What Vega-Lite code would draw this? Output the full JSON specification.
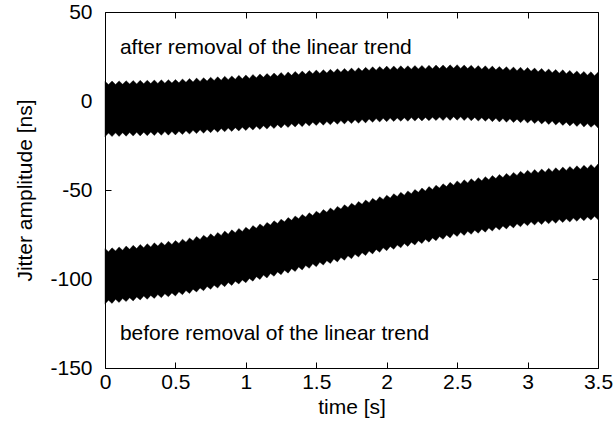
{
"$schema": "https://vega.github.io/schema/vega-lite/v6.json",
"width": 493, "height": 356,
"autosize": {"type": "none"},
"padding": {"left": 105, "top": 12, "right": 17, "bottom": 70},
"background": "white",
"config": {
 "view": {"stroke": "black", "strokeWidth": 1},
 "axis": {"domain": false, "grid": false, "tickColor": "black", "tickSize": -6, "tickWidth": 1,
  "labelFont": "Liberation Sans", "labelFontSize": 21, "labelColor": "black",
  "titleFont": "Liberation Sans", "titleFontSize": 21, "titleFontWeight": "normal", "titleColor": "black"}
},
"data": {"values": [
{"t":0,"ah":11.1,"al":-20.1,"bh":-82.9,"bl":-114.1},
{"t":0.025,"ah":9.2,"al":-18.0,"bh":-84.7,"bl":-111.9},
{"t":0.05,"ah":11.2,"al":-20.0,"bh":-82.5,"bl":-113.7},
{"t":0.075,"ah":9.3,"al":-17.9,"bh":-84.2,"bl":-111.4},
{"t":0.1,"ah":11.3,"al":-19.9,"bh":-82.0,"bl":-113.2},
{"t":0.125,"ah":9.4,"al":-17.8,"bh":-83.8,"bl":-111.0},
{"t":0.15,"ah":11.4,"al":-19.8,"bh":-81.5,"bl":-112.7},
{"t":0.175,"ah":9.5,"al":-17.7,"bh":-83.3,"bl":-110.5},
{"t":0.2,"ah":11.5,"al":-19.7,"bh":-81.1,"bl":-112.3},
{"t":0.225,"ah":9.6,"al":-17.6,"bh":-82.9,"bl":-110.1},
{"t":0.25,"ah":11.6,"al":-19.6,"bh":-80.6,"bl":-111.8},
{"t":0.275,"ah":9.7,"al":-17.5,"bh":-82.4,"bl":-109.6},
{"t":0.3,"ah":11.7,"al":-19.5,"bh":-80.2,"bl":-111.4},
{"t":0.325,"ah":9.8,"al":-17.4,"bh":-82.0,"bl":-109.2},
{"t":0.35,"ah":11.8,"al":-19.4,"bh":-79.7,"bl":-110.9},
{"t":0.375,"ah":9.9,"al":-17.3,"bh":-81.5,"bl":-108.7},
{"t":0.4,"ah":11.9,"al":-19.3,"bh":-79.3,"bl":-110.5},
{"t":0.425,"ah":10.0,"al":-17.2,"bh":-81.1,"bl":-108.3},
{"t":0.45,"ah":12.0,"al":-19.2,"bh":-78.8,"bl":-110.0},
{"t":0.475,"ah":10.1,"al":-17.1,"bh":-80.6,"bl":-107.8},
{"t":0.5,"ah":12.1,"al":-19.1,"bh":-78.4,"bl":-109.6},
{"t":0.525,"ah":10.2,"al":-17.0,"bh":-80.0,"bl":-107.2},
{"t":0.55,"ah":12.4,"al":-18.8,"bh":-77.6,"bl":-108.8},
{"t":0.575,"ah":10.5,"al":-16.7,"bh":-79.3,"bl":-106.5},
{"t":0.6,"ah":12.6,"al":-18.6,"bh":-76.9,"bl":-108.1},
{"t":0.625,"ah":10.7,"al":-16.5,"bh":-78.5,"bl":-105.7},
{"t":0.65,"ah":12.9,"al":-18.3,"bh":-76.1,"bl":-107.3},
{"t":0.675,"ah":11.0,"al":-16.2,"bh":-77.8,"bl":-105.0},
{"t":0.7,"ah":13.1,"al":-18.1,"bh":-75.4,"bl":-106.6},
{"t":0.725,"ah":11.2,"al":-16.0,"bh":-77.0,"bl":-104.2},
{"t":0.75,"ah":13.4,"al":-17.8,"bh":-74.6,"bl":-105.8},
{"t":0.775,"ah":11.5,"al":-15.7,"bh":-76.3,"bl":-103.5},
{"t":0.8,"ah":13.6,"al":-17.6,"bh":-73.9,"bl":-105.1},
{"t":0.825,"ah":11.7,"al":-15.5,"bh":-75.5,"bl":-102.7},
{"t":0.85,"ah":13.9,"al":-17.3,"bh":-73.1,"bl":-104.3},
{"t":0.875,"ah":12.0,"al":-15.2,"bh":-74.8,"bl":-102.0},
{"t":0.9,"ah":14.1,"al":-17.1,"bh":-72.4,"bl":-103.6},
{"t":0.925,"ah":12.2,"al":-15.0,"bh":-74.0,"bl":-101.2},
{"t":0.95,"ah":14.4,"al":-16.8,"bh":-71.6,"bl":-102.8},
{"t":0.975,"ah":12.5,"al":-14.7,"bh":-73.3,"bl":-100.5},
{"t":1.0,"ah":14.6,"al":-16.6,"bh":-70.9,"bl":-102.1},
{"t":1.025,"ah":12.7,"al":-14.5,"bh":-72.5,"bl":-99.7},
{"t":1.05,"ah":14.9,"al":-16.3,"bh":-70.0,"bl":-101.2},
{"t":1.075,"ah":13.0,"al":-14.2,"bh":-71.5,"bl":-98.7},
{"t":1.1,"ah":15.2,"al":-16.0,"bh":-69.1,"bl":-100.3},
{"t":1.125,"ah":13.3,"al":-13.9,"bh":-70.6,"bl":-97.8},
{"t":1.15,"ah":15.4,"al":-15.8,"bh":-68.2,"bl":-99.4},
{"t":1.175,"ah":13.6,"al":-13.6,"bh":-69.7,"bl":-96.9},
{"t":1.2,"ah":15.7,"al":-15.5,"bh":-67.3,"bl":-98.5},
{"t":1.225,"ah":13.9,"al":-13.3,"bh":-68.8,"bl":-96.0},
{"t":1.25,"ah":16.0,"al":-15.2,"bh":-66.4,"bl":-97.6},
{"t":1.275,"ah":14.1,"al":-13.1,"bh":-67.9,"bl":-95.1},
{"t":1.3,"ah":16.3,"al":-14.9,"bh":-65.5,"bl":-96.7},
{"t":1.325,"ah":14.4,"al":-12.8,"bh":-67.0,"bl":-94.2},
{"t":1.35,"ah":16.6,"al":-14.6,"bh":-64.6,"bl":-95.8},
{"t":1.375,"ah":14.7,"al":-12.5,"bh":-66.1,"bl":-93.3},
{"t":1.4,"ah":16.8,"al":-14.4,"bh":-63.7,"bl":-94.9},
{"t":1.425,"ah":15.0,"al":-12.2,"bh":-65.2,"bl":-92.4},
{"t":1.45,"ah":17.1,"al":-14.1,"bh":-62.8,"bl":-94.0},
{"t":1.475,"ah":15.3,"al":-11.9,"bh":-64.3,"bl":-91.5},
{"t":1.5,"ah":17.4,"al":-13.8,"bh":-61.9,"bl":-93.1},
{"t":1.525,"ah":15.5,"al":-11.7,"bh":-63.4,"bl":-90.6},
{"t":1.55,"ah":17.6,"al":-13.6,"bh":-61.0,"bl":-92.2},
{"t":1.575,"ah":15.7,"al":-11.5,"bh":-62.5,"bl":-89.7},
{"t":1.6,"ah":17.8,"al":-13.4,"bh":-60.1,"bl":-91.3},
{"t":1.625,"ah":16.0,"al":-11.2,"bh":-61.6,"bl":-88.8},
{"t":1.65,"ah":18.1,"al":-13.1,"bh":-59.2,"bl":-90.4},
{"t":1.675,"ah":16.2,"al":-11.0,"bh":-60.7,"bl":-87.9},
{"t":1.7,"ah":18.3,"al":-12.9,"bh":-58.3,"bl":-89.5},
{"t":1.725,"ah":16.4,"al":-10.8,"bh":-59.8,"bl":-87.0},
{"t":1.75,"ah":18.5,"al":-12.7,"bh":-57.4,"bl":-88.6},
{"t":1.775,"ah":16.6,"al":-10.6,"bh":-58.9,"bl":-86.1},
{"t":1.8,"ah":18.7,"al":-12.5,"bh":-56.5,"bl":-87.7},
{"t":1.825,"ah":16.8,"al":-10.4,"bh":-58.0,"bl":-85.2},
{"t":1.85,"ah":18.9,"al":-12.3,"bh":-55.6,"bl":-86.8},
{"t":1.875,"ah":17.1,"al":-10.1,"bh":-57.1,"bl":-84.3},
{"t":1.9,"ah":19.2,"al":-12.0,"bh":-54.7,"bl":-85.9},
{"t":1.925,"ah":17.3,"al":-9.9,"bh":-56.2,"bl":-83.4},
{"t":1.95,"ah":19.4,"al":-11.8,"bh":-53.8,"bl":-85.0},
{"t":1.975,"ah":17.5,"al":-9.7,"bh":-55.3,"bl":-82.5},
{"t":2.0,"ah":19.6,"al":-11.6,"bh":-52.9,"bl":-84.1},
{"t":2.025,"ah":17.6,"al":-9.6,"bh":-54.5,"bl":-81.7},
{"t":2.05,"ah":19.7,"al":-11.5,"bh":-52.1,"bl":-83.3},
{"t":2.075,"ah":17.7,"al":-9.5,"bh":-53.7,"bl":-80.9},
{"t":2.1,"ah":19.8,"al":-11.4,"bh":-51.3,"bl":-82.5},
{"t":2.125,"ah":17.8,"al":-9.4,"bh":-52.9,"bl":-80.1},
{"t":2.15,"ah":19.8,"al":-11.4,"bh":-50.5,"bl":-81.7},
{"t":2.175,"ah":17.9,"al":-9.3,"bh":-52.1,"bl":-79.3},
{"t":2.2,"ah":19.9,"al":-11.3,"bh":-49.7,"bl":-80.9},
{"t":2.225,"ah":18.0,"al":-9.2,"bh":-51.3,"bl":-78.5},
{"t":2.25,"ah":20.0,"al":-11.2,"bh":-48.9,"bl":-80.1},
{"t":2.275,"ah":18.0,"al":-9.2,"bh":-50.5,"bl":-77.7},
{"t":2.3,"ah":20.1,"al":-11.1,"bh":-48.1,"bl":-79.3},
{"t":2.325,"ah":18.1,"al":-9.1,"bh":-49.7,"bl":-76.9},
{"t":2.35,"ah":20.2,"al":-11.0,"bh":-47.3,"bl":-78.5},
{"t":2.375,"ah":18.2,"al":-9.0,"bh":-48.9,"bl":-76.1},
{"t":2.4,"ah":20.2,"al":-11.0,"bh":-46.5,"bl":-77.7},
{"t":2.425,"ah":18.3,"al":-8.9,"bh":-48.1,"bl":-75.3},
{"t":2.45,"ah":20.3,"al":-10.9,"bh":-45.7,"bl":-76.9},
{"t":2.475,"ah":18.4,"al":-8.8,"bh":-47.3,"bl":-74.5},
{"t":2.5,"ah":20.4,"al":-10.8,"bh":-44.9,"bl":-76.1},
{"t":2.525,"ah":18.3,"al":-8.9,"bh":-46.6,"bl":-73.8},
{"t":2.55,"ah":20.2,"al":-11.0,"bh":-44.3,"bl":-75.5},
{"t":2.575,"ah":18.2,"al":-9.0,"bh":-46.0,"bl":-73.2},
{"t":2.6,"ah":20.1,"al":-11.1,"bh":-43.7,"bl":-74.9},
{"t":2.625,"ah":18.0,"al":-9.2,"bh":-45.4,"bl":-72.6},
{"t":2.65,"ah":19.9,"al":-11.3,"bh":-43.1,"bl":-74.3},
{"t":2.675,"ah":17.8,"al":-9.4,"bh":-44.8,"bl":-72.0},
{"t":2.7,"ah":19.8,"al":-11.4,"bh":-42.5,"bl":-73.7},
{"t":2.725,"ah":17.7,"al":-9.5,"bh":-44.2,"bl":-71.4},
{"t":2.75,"ah":19.6,"al":-11.6,"bh":-41.9,"bl":-73.1},
{"t":2.775,"ah":17.5,"al":-9.7,"bh":-43.6,"bl":-70.8},
{"t":2.8,"ah":19.4,"al":-11.8,"bh":-41.3,"bl":-72.5},
{"t":2.825,"ah":17.4,"al":-9.8,"bh":-43.0,"bl":-70.2},
{"t":2.85,"ah":19.3,"al":-11.9,"bh":-40.7,"bl":-71.9},
{"t":2.875,"ah":17.2,"al":-10.0,"bh":-42.4,"bl":-69.6},
{"t":2.9,"ah":19.1,"al":-12.1,"bh":-40.1,"bl":-71.3},
{"t":2.925,"ah":17.0,"al":-10.2,"bh":-41.8,"bl":-69.0},
{"t":2.95,"ah":19.0,"al":-12.2,"bh":-39.5,"bl":-70.7},
{"t":2.975,"ah":16.9,"al":-10.3,"bh":-41.2,"bl":-68.4},
{"t":3.0,"ah":18.8,"al":-12.4,"bh":-38.9,"bl":-70.1},
{"t":3.025,"ah":16.7,"al":-10.5,"bh":-40.7,"bl":-67.9},
{"t":3.05,"ah":18.5,"al":-12.7,"bh":-38.5,"bl":-69.7},
{"t":3.075,"ah":16.4,"al":-10.8,"bh":-40.4,"bl":-67.6},
{"t":3.1,"ah":18.3,"al":-12.9,"bh":-38.2,"bl":-69.4},
{"t":3.125,"ah":16.1,"al":-11.1,"bh":-40.0,"bl":-67.2},
{"t":3.15,"ah":18.0,"al":-13.2,"bh":-37.8,"bl":-69.0},
{"t":3.175,"ah":15.9,"al":-11.3,"bh":-39.7,"bl":-66.9},
{"t":3.2,"ah":17.7,"al":-13.5,"bh":-37.5,"bl":-68.7},
{"t":3.225,"ah":15.6,"al":-11.6,"bh":-39.3,"bl":-66.5},
{"t":3.25,"ah":17.5,"al":-13.7,"bh":-37.1,"bl":-68.3},
{"t":3.275,"ah":15.3,"al":-11.9,"bh":-39.0,"bl":-66.2},
{"t":3.3,"ah":17.2,"al":-14.0,"bh":-36.8,"bl":-68.0},
{"t":3.325,"ah":15.0,"al":-12.2,"bh":-38.6,"bl":-65.8},
{"t":3.35,"ah":16.9,"al":-14.3,"bh":-36.4,"bl":-67.6},
{"t":3.375,"ah":14.8,"al":-12.4,"bh":-38.3,"bl":-65.5},
{"t":3.4,"ah":16.6,"al":-14.6,"bh":-36.1,"bl":-67.3},
{"t":3.425,"ah":14.5,"al":-12.7,"bh":-37.9,"bl":-65.1},
{"t":3.45,"ah":16.4,"al":-14.8,"bh":-35.7,"bl":-66.9},
{"t":3.475,"ah":14.2,"al":-13.0,"bh":-37.6,"bl":-64.8},
{"t":3.5,"ah":16.1,"al":-15.1,"bh":-35.4,"bl":-66.6}
]},
"layer": [
 {"mark": {"type": "area", "color": "black", "stroke": "black", "strokeWidth": 0.4, "interpolate": "linear"},
  "encoding": {
   "x": {"field": "t", "type": "quantitative", "scale": {"domain": [0, 3.5], "nice": false, "zero": false},
    "axis": {"orient": "bottom", "values": [0,0.5,1,1.5,2,2.5,3,3.5], "labelExpr": "toString(datum.value)", "labelPadding": 9, "title": "time [s]", "titlePadding": 4, "labelFlush": false}},
   "y": {"field": "ah", "type": "quantitative", "scale": {"domain": [-150, 50], "nice": false, "zero": false},
    "axis": {"orient": "left", "values": [-150,-100,-50,0,50], "labelExpr": "toString(datum.value)", "labelPadding": 19, "title": "Jitter amplitude [ns]", "titlePadding": 14}},
   "y2": {"field": "al"}
  }},
 {"mark": {"type": "area", "color": "black", "stroke": "black", "strokeWidth": 0.4, "interpolate": "linear"},
  "encoding": {
   "x": {"field": "t", "type": "quantitative", "axis": {"orient": "top", "values": [0,0.5,1,1.5,2,2.5,3,3.5], "labels": false, "title": null}},
   "y": {"field": "bh", "type": "quantitative", "axis": {"orient": "right", "values": [-150,-100,-50,0,50], "labels": false, "title": null}},
   "y2": {"field": "bl"}
  }},
 {"data": {"values": [
   {"tx": 0.106, "ty": 29.8, "label": "after removal of the linear trend"},
   {"tx": 0.106, "ty": -131, "label": "before removal of the linear trend"}
  ]},
  "mark": {"type": "text", "align": "left", "baseline": "middle", "font": "Liberation Sans", "fontSize": 21, "color": "black"},
  "encoding": {
   "x": {"field": "tx", "type": "quantitative", "axis": null},
   "y": {"field": "ty", "type": "quantitative", "axis": null},
   "text": {"field": "label"}
  }}
],
"resolve": {"axis": {"x": "independent", "y": "independent"}}
}
